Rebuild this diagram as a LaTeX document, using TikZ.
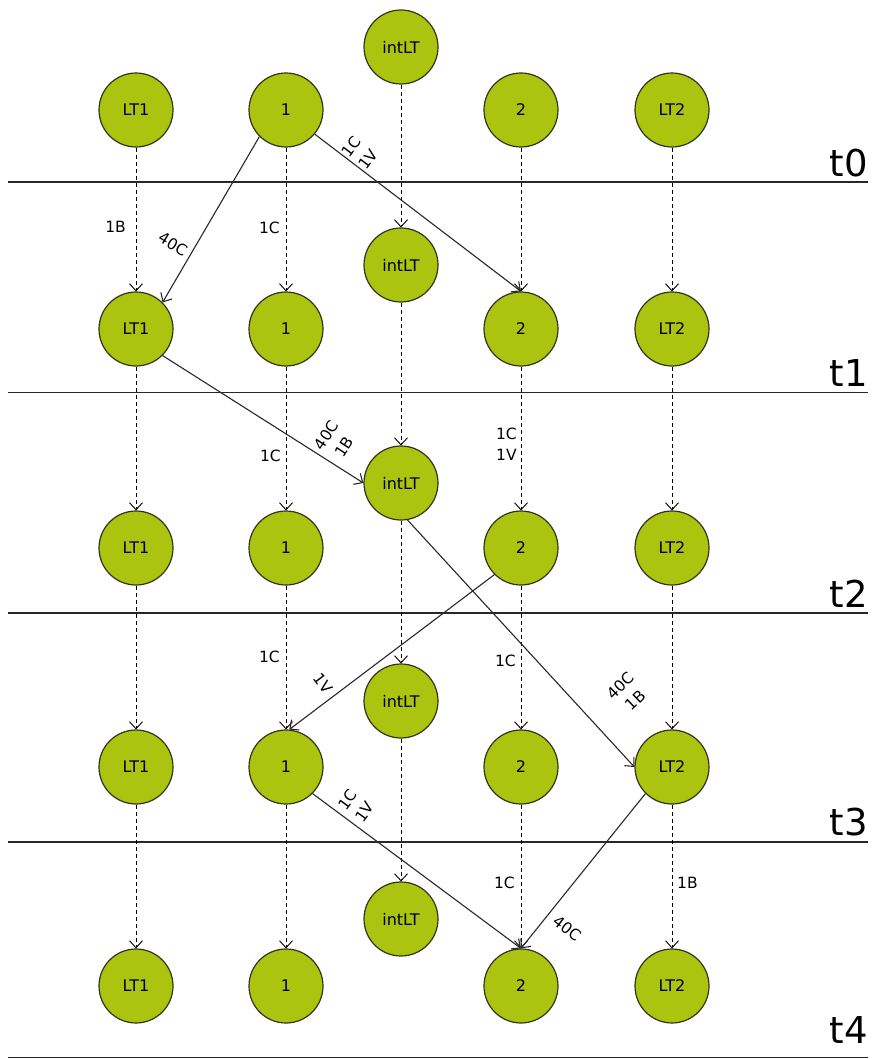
\documentclass[tikz,border=0pt]{standalone}
\usepackage{fontspec}
\setmainfont{DejaVu Sans}
\usetikzlibrary{arrows.meta}
\definecolor{nodefill}{RGB}{170,196,16}
\definecolor{nodeline}{RGB}{50,52,25}
\definecolor{wire}{RGB}{40,40,40}
\begin{document}
\begin{tikzpicture}[x=1pt,y=-1pt,
  state/.style={circle,draw=nodeline,fill=nodefill,line width=1.2pt,minimum size=74pt,inner sep=0pt,font=\fontsize{16}{19}\selectfont},
  carry/.style={-{Straight Barb[length=7pt,width=13pt]},draw=black,line width=0.9pt,dash pattern=on 4pt off 3pt},
  move/.style={-{Straight Barb[length=7pt,width=13pt]},draw=wire,line width=1.1pt},
  lbl/.style={font=\fontsize{15.5}{21}\selectfont,align=center,inner sep=0pt},
  tick/.style={draw=wire,line width=1.2pt},
  tlabel/.style={font=\fontsize{37}{40}\selectfont,anchor=base east,inner sep=0pt}]

\useasboundingbox (0,0) rectangle (877,1059);

% time lines and their labels
\foreach \yy/\by/\tt in {182/177/t0, 392.5/386/t1, 613/607/t2, 842/835/t3, 1057.5/1043/t4}{
  \coordinate (ls-\tt) at (8,\yy);
  \coordinate (le-\tt) at (868,\yy);
  \draw[tick] (ls-\tt) -- (le-\tt);
  \node[tlabel] (lab-\tt) at (868,\by) {\tt};
}

% states of every time step
\foreach \k in {0,...,4}{
  \node[state] (lt1-\k) at (136,{110+219*\k}) {LT1};
  \node[state] (one-\k) at (286,{110+219*\k}) {1};
  \node[state] (two-\k) at (521,{110+219*\k}) {2};
  \node[state] (lt2-\k) at (672,{110+219*\k}) {LT2};
  \node[state] (int-\k) at (401,{47+218*\k}) {intLT};
}

% carry-over between consecutive steps
\foreach \k [evaluate=\k as \n using int(\k+1)] in {0,...,3}{
  \draw[carry] (lt1-\k) -- (lt1-\n);
  \draw[carry] (one-\k) -- (one-\n);
  \draw[carry] (two-\k) -- (two-\n);
  \draw[carry] (lt2-\k) -- (lt2-\n);
  \draw[carry] (int-\k) -- (int-\n);
}

% transfers
\draw[move] (one-0.south west) -- (lt1-1.north east);
\draw[move] (one-0.-40) -- (two-1.north);
\draw[move] (lt1-1.south east) -- (int-2.west);
\draw[move] (int-2.-80) -- (lt2-3.west);
\draw[move] (two-2.south west) -- (one-3.85);
\draw[move] (one-3.south east) -- (two-4.north);
\draw[move] (lt2-3.south west) -- (two-4.north);

% transfer labels
\node[lbl,rotate=-31] (m-a) at (173,244) {40C};
\node[lbl,rotate=53] (m-b) at (360,153) {1C\\1V};
\node[lbl,rotate=57] (m-c) at (335,441) {40C\\1B};
\node[lbl,rotate=-53] (m-d) at (323,683) {1V};
\node[lbl,rotate=44] (m-e) at (628,693) {40C\\1B};
\node[lbl,rotate=54] (m-f) at (356,806) {1C\\1V};
\node[lbl,rotate=-38] (m-g) at (567,928) {40C};

% carry-over labels
\node[lbl,anchor=east] (c-a) at (126,227) {1B};
\node[lbl,anchor=east] (c-b) at (280,228) {1C};
\node[lbl,anchor=east] (c-c) at (281,456) {1C};
\node[lbl,anchor=east] (c-d) at (517,444) {1C\\1V};
\node[lbl,anchor=east] (c-e) at (280,657) {1C};
\node[lbl,anchor=east] (c-f) at (516,661) {1C};
\node[lbl,anchor=east] (c-g) at (515,883) {1C};
\node[lbl,anchor=west] (c-h) at (677,883) {1B};
\end{tikzpicture}
\end{document}
